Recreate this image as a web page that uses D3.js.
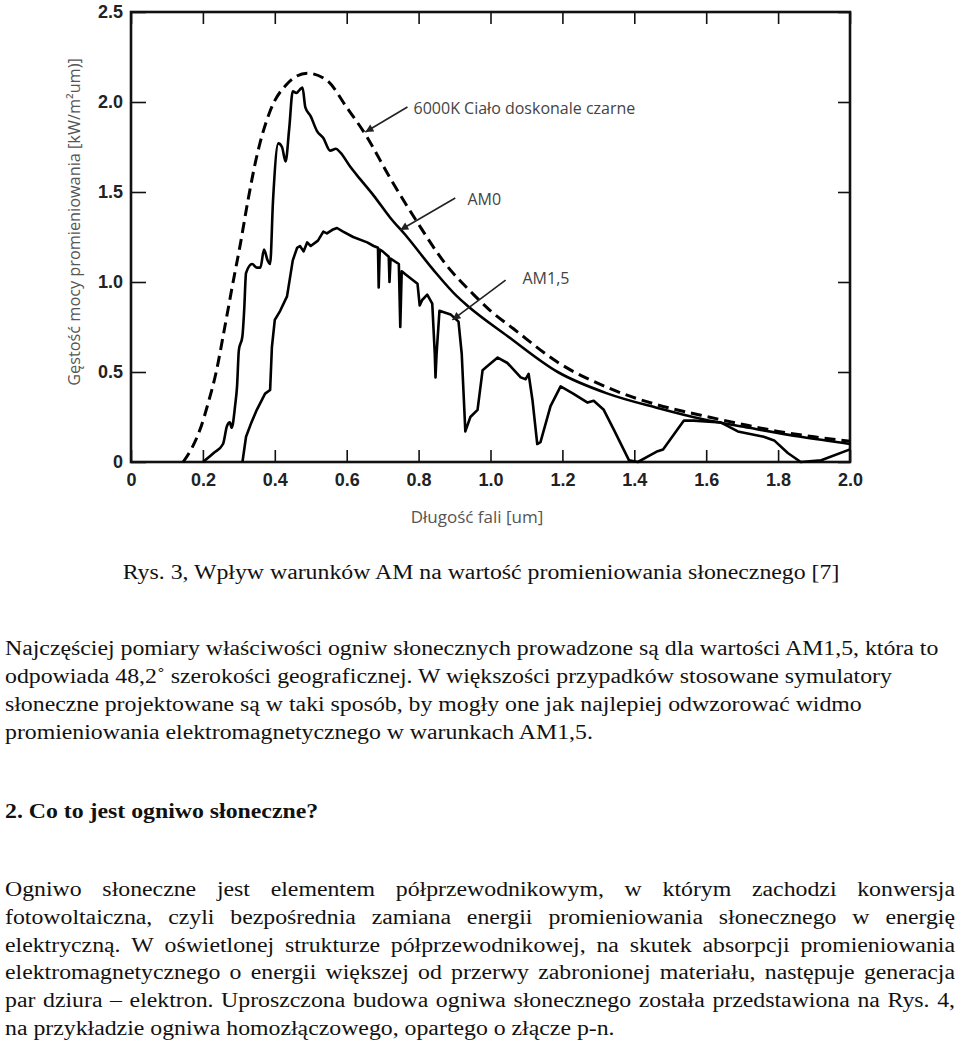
<!DOCTYPE html>
<html><head><meta charset="utf-8">
<script src="https://cdn.jsdelivr.net/npm/d3@7"></script>
<style>body{margin:0;background:#fff} svg{display:block}</style>
</head><body>
<svg id="c" width="960" height="1040"></svg>
<script>
// ---------- data ----------
const xTickValues = [0,0.2,0.4,0.6,0.8,1.0,1.2,1.4,1.6,1.8,2.0];
const yTickValues = [0,0.5,1.0,1.5,2.0,2.5];

const bbWavelength = [0.145,0.17,0.192,0.215,0.237,0.26,0.284,0.305,0.325,0.35,0.387,0.434,0.49,0.545,0.6,0.652,0.72,0.797,0.875,0.953,1.0,1.064,1.19,1.33,1.46,1.585,1.7,1.8,1.9,2.0];
const bbPower      = [0,0.08,0.18,0.33,0.5,0.74,1.0,1.22,1.45,1.7,1.95,2.1,2.16,2.12,1.97,1.82,1.58,1.33,1.1,0.93,0.84,0.74,0.55,0.41,0.32,0.26,0.21,0.17,0.14,0.115];

const am0Wavelength = [0.2,0.23,0.256,0.267,0.275,0.28,0.29,0.295,0.3,0.31,0.315,0.32,0.337,0.35,0.36,0.37,0.38,0.387,0.395,0.41,0.42,0.43,0.44,0.45,0.46,0.47,0.477,0.485,0.5,0.517,0.535,0.554,0.57,0.582,0.61,0.638,0.675,0.72,0.768,0.84,0.907,0.935,1.047,1.187,1.326,1.465,1.585,1.72,1.863,2.0];
const am0Power      = [0,0.05,0.1,0.2,0.22,0.19,0.32,0.42,0.62,0.7,0.85,1.05,1.1,1.08,1.08,1.18,1.12,1.1,1.45,1.77,1.75,1.67,1.85,2.06,2.05,2.07,2.08,1.97,1.92,1.84,1.8,1.73,1.74,1.72,1.64,1.57,1.48,1.36,1.25,1.07,0.92,0.87,0.70,0.50,0.38,0.30,0.24,0.19,0.14,0.1];

const am15Wavelength = [0.31,0.32,0.335,0.35,0.373,0.387,0.392,0.40,0.415,0.434,0.45,0.462,0.47,0.48,0.49,0.5,0.52,0.535,0.545,0.56,0.573,0.59,0.618,0.657,0.675,0.687,0.689,0.692,0.7,0.717,0.719,0.722,0.745,0.749,0.753,0.765,0.797,0.803,0.81,0.824,0.838,0.845,0.847,0.85,0.858,0.889,0.911,0.92,0.93,0.944,0.964,0.978,0.99,1.02,1.047,1.084,1.098,1.106,1.117,1.13,1.139,1.167,1.195,1.23,1.27,1.287,1.315,1.343,1.385,1.41,1.437,1.465,1.48,1.538,1.565,1.64,1.688,1.76,1.789,1.827,1.863,1.92,2.0];
const am15Power      = [0,0.14,0.22,0.29,0.38,0.40,0.64,0.79,0.84,0.92,1.12,1.19,1.2,1.17,1.22,1.2,1.23,1.28,1.27,1.29,1.3,1.28,1.25,1.22,1.2,1.19,0.97,1.18,1.17,1.14,1.0,1.13,1.1,0.75,1.06,1.04,0.99,0.87,0.9,0.93,0.88,0.6,0.47,0.6,0.84,0.82,0.78,0.6,0.17,0.25,0.29,0.51,0.53,0.58,0.55,0.47,0.46,0.49,0.34,0.1,0.11,0.31,0.42,0.38,0.33,0.34,0.29,0.18,0.01,0,0.03,0.06,0.07,0.23,0.23,0.22,0.17,0.14,0.12,0.05,0,0.01,0.07];

const seriesLabels = ["6000K Ciało doskonale czarne","AM0","AM1,5"];
const yTitle = "Gęstość mocy promieniowania [kW/m²um)]";
const xTitle = "Długość fali [um]";
const caption = "Rys. 3, Wpływ warunków AM na wartość promieniowania słonecznego [7]";
const para1 = [
 "Najczęściej pomiary właściwości ogniw słonecznych prowadzone są dla wartości AM1,5, która to",
 "odpowiada 48,2˚ szerokości geograficznej. W większości przypadków stosowane symulatory",
 "słoneczne projektowane są w taki sposób, by mogły one jak najlepiej odwzorować widmo",
 "promieniowania elektromagnetycznego w warunkach AM1,5."];
const heading = "2. Co to jest ogniwo słoneczne?";
const para2 = [
 "Ogniwo słoneczne jest elementem półprzewodnikowym, w którym zachodzi konwersja",
 "fotowoltaiczna, czyli bezpośrednia zamiana energii promieniowania słonecznego w energię",
 "elektryczną. W oświetlonej strukturze półprzewodnikowej, na skutek absorpcji promieniowania",
 "elektromagnetycznego o energii większej od przerwy zabronionej materiału, następuje generacja",
 "par dziura – elektron. Uproszczona budowa ogniwa słonecznego została przedstawiona na Rys. 4,",
 "na przykładzie ogniwa homozłączowego, opartego o złącze p-n."];

// ---------- chart ----------
const svg = d3.select("#c");
const x = d3.scaleLinear().domain([0,2]).range([131,850]);
const y = d3.scaleLinear().domain([0,2.5]).range([462,12]);
const fmt = d => d===0 ? "0" : d.toFixed(1);
const tickFont = "'Liberation Sans', Arial, sans-serif";

function styleAxis(g, showLabels){
  g.select(".domain").remove();
  g.selectAll(".tick line").attr("stroke","#111").attr("stroke-width",1.6);
  g.selectAll(".tick text").attr("fill","#222").attr("font-family",tickFont)
   .attr("font-size",18).attr("font-weight","bold");
  if(!showLabels) g.selectAll(".tick text").remove();
}
svg.append("g").attr("transform",`translate(0,${y(0)})`)
  .call(d3.axisBottom(x).tickValues(xTickValues).tickSize(-12).tickPadding(11).tickFormat(fmt))
  .call(g=>styleAxis(g,true));
svg.append("g").attr("transform",`translate(0,${y(2.5)})`)
  .call(d3.axisTop(x).tickValues(xTickValues).tickSize(-12).tickFormat(""))
  .call(g=>styleAxis(g,false));
svg.append("g").attr("transform",`translate(${x(0)},0)`)
  .call(d3.axisLeft(y).tickValues(yTickValues).tickSize(-15).tickPadding(8).tickFormat(fmt))
  .call(g=>styleAxis(g,true));
svg.append("g").attr("transform",`translate(${x(2)},0)`)
  .call(d3.axisRight(y).tickValues(yTickValues).tickSize(-12).tickFormat(""))
  .call(g=>styleAxis(g,false));
svg.append("rect").attr("x",x(0)).attr("y",y(2.5)).attr("width",x(2)-x(0)).attr("height",y(0)-y(2.5))
  .attr("fill","none").attr("stroke","#111").attr("stroke-width",2.6);

const smooth = d3.line().x(d=>x(d[0])).y(d=>y(d[1])).curve(d3.curveMonotoneX);
const straight = d3.line().x(d=>x(d[0])).y(d=>y(d[1]));
const zip = (a,b)=>a.map((v,i)=>[v,b[i]]);

svg.append("path").attr("d",smooth(zip(bbWavelength,bbPower))).attr("fill","none")
  .attr("stroke","#000").attr("stroke-width",3).attr("stroke-dasharray","11,6");
svg.append("path").attr("d",smooth(zip(am0Wavelength,am0Power))).attr("fill","none")
  .attr("stroke","#000").attr("stroke-width",2.6).attr("stroke-linejoin","round");
svg.append("path").attr("d",straight(zip(am15Wavelength,am15Power))).attr("fill","none")
  .attr("stroke","#000").attr("stroke-width",2.6).attr("stroke-linejoin","round");

// annotations
svg.append("defs").append("marker").attr("id","ah").attr("viewBox","0 0 10 10")
  .attr("refX",10).attr("refY",5).attr("markerWidth",10).attr("markerHeight",8)
  .attr("markerUnits","userSpaceOnUse").attr("orient","auto")
  .append("path").attr("d","M0,0L10,5L0,10Z").attr("fill","#222");
const annFont = "'Open Sans', 'Noto Sans', sans-serif";
const ann = [
  {label:seriesLabels[0], lx:0.786, ly:1.935, from:[0.769,1.972], to:[0.652,1.833]},
  {label:seriesLabels[1], lx:0.936, ly:1.43,  from:[0.902,1.467], to:[0.749,1.289]},
  {label:seriesLabels[2], lx:1.089, ly:0.99,  from:[1.042,1.011], to:[0.894,0.789]}
];
ann.forEach(a=>{
  svg.append("line").attr("x1",x(a.from[0])).attr("y1",y(a.from[1]))
    .attr("x2",x(a.to[0])).attr("y2",y(a.to[1])).attr("stroke","#222").attr("stroke-width",1.6)
    .attr("marker-end","url(#ah)");
  svg.append("text").attr("x",x(a.lx)).attr("y",y(a.ly)).text(a.label)
    .attr("font-family",annFont).attr("font-size",16).attr("fill","#444");
});

svg.append("text").attr("transform",`translate(80,222) rotate(-90)`).attr("text-anchor","middle")
  .attr("font-family",annFont).attr("font-size",16.3).attr("fill","#555").text(yTitle);
svg.append("text").attr("x",477).attr("y",523).attr("text-anchor","middle")
  .attr("font-family",annFont).attr("font-size",17).attr("fill","#555").text(xTitle);

// ---------- document text (source page is horizontally stretched) ----------
const serif = "'Liberation Serif','Times New Roman',serif";
const SX = 1.19;
function textAt(x0, yy, bold, anchor){
  return svg.append("text").attr("transform",`translate(${x0},${yy}) scale(${SX},1)`)
    .attr("font-family",serif).attr("font-size",20).attr("fill","#111")
    .attr("font-weight",bold?"bold":null).attr("text-anchor",anchor||null);
}
textAt(481,579,false,"middle").text(caption);

function justifyLine(txt, x0, x1, yy){
  const words = txt.split(" ");
  const t = textAt(x0, yy, false);
  const spans = words.map(w=>t.append("tspan").text(w));
  const widths = spans.map(s=>s.node().getComputedTextLength());
  const total = d3.sum(widths);
  const avail = (x1-x0)/SX;
  const gap = words.length>1 ? (avail-total)/(words.length-1) : 0;
  let cx = 0;
  spans.forEach((s,i)=>{ s.attr("x",cx); cx += widths[i]+gap; });
}
function plainLine(txt, x0, yy, bold){ textAt(x0, yy, bold).text(txt); }
para1.forEach((l,i)=>plainLine(l,5,655+i*28,false));
plainLine(heading,5,818,true);
para2.forEach((l,i)=>{
  const yy = 896+i*27.8;
  if(i<para2.length-1) justifyLine(l,5,955,yy); else plainLine(l,5,yy,false);
});
</script>
</body></html>
